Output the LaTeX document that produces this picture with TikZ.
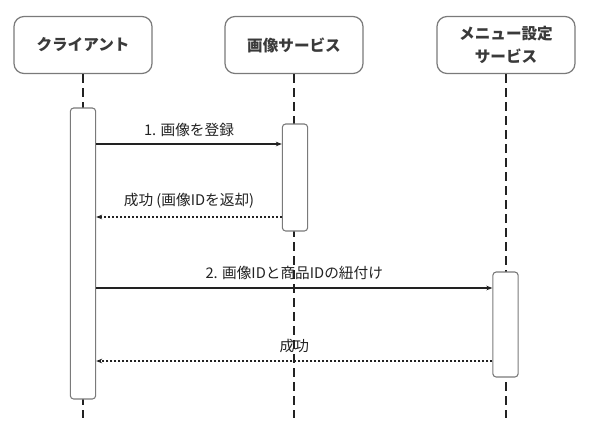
\documentclass[tikz,border=0pt]{standalone}
\usepackage{fontspec}
\setmainfont{Noto Sans CJK JP}
\usetikzlibrary{arrows.meta}
\definecolor{boxline}{HTML}{7A7A7A}
\definecolor{ink}{HTML}{222222}
\definecolor{headink}{HTML}{3A3A3A}
\tikzset{
  header/.style={draw=boxline, line width=0.9pt, rounded corners=7.5pt, fill=white,
    minimum width=103.5pt, minimum height=42.75pt, inner sep=0pt, align=center,
    text=headink, font=\fontsize{11.7}{17.25}\selectfont\bfseries},
  actbox/.style={draw=boxline, line width=0.8pt, rounded corners=2.5pt, fill=white,
    minimum width=19pt, inner sep=0pt},
  lifeline/.style={draw=ink, line width=0.9pt, dash pattern=on 6.5pt off 4pt},
  msg/.style={draw=ink, line width=0.8pt, -{Stealth[length=4.5pt,width=3.5pt]}},
  reply/.style={draw=ink, line width=0.8pt, dash pattern=on 1.5pt off 1.5pt, -{Stealth[length=4.5pt,width=3.5pt]}},
  msglabel/.style={text=ink, inner sep=0pt, font=\fontsize{11}{12}\selectfont}
}
\begin{document}
\begin{tikzpicture}[x=0.75pt,y=-0.75pt]
\useasboundingbox (0,0) rectangle (590,433);
% headers
\node[header] (client) at (83,45) {クライアント};
\node[header] (image) at (294,45) {画像サービス};
\node[header] (menu) at (506,45) {メニュー設定\\サービス};
% lifeline ends
\coordinate (clientEnd) at (83,418);
\coordinate (imageEnd) at (294,418);
\coordinate (menuEnd) at (506,418);
\draw[lifeline] (client.south) -- (clientEnd);
\draw[lifeline] (image.south) -- (imageEnd);
\draw[lifeline] (menu.south) -- (menuEnd);
% activation boxes
\node[actbox, minimum height=218.25pt] (clientAct) at (83,253.5) {};
\node[actbox, minimum height=80.25pt] (imageAct) at (295,177.5) {};
\node[actbox, minimum height=78.75pt] (menuAct) at (505.5,324.5) {};
% message levels
\coordinate (m1) at (0,144);
\coordinate (m2) at (0,217);
\coordinate (m3) at (0,288);
\coordinate (m4) at (0,361);
% messages
\draw[msg] (clientAct.east |- m1) -- (imageAct.west |- m1)
  node[msglabel, midway, above=5pt] (l1) {1. 画像を登録};
\draw[reply] (imageAct.west |- m2) -- (clientAct.east |- m2)
  node[msglabel, midway, above=6pt] (l2) {成功 (画像IDを返却)};
\draw[msg] (clientAct.east |- m3) -- (menuAct.west |- m3)
  node[msglabel, midway, above=6pt] (l3) {2. 画像IDと商品IDの紐付け};
\draw[reply] (menuAct.west |- m4) -- (clientAct.east |- m4)
  node[msglabel, midway, above=6pt] (l4) {成功};
\end{tikzpicture}
\end{document}
